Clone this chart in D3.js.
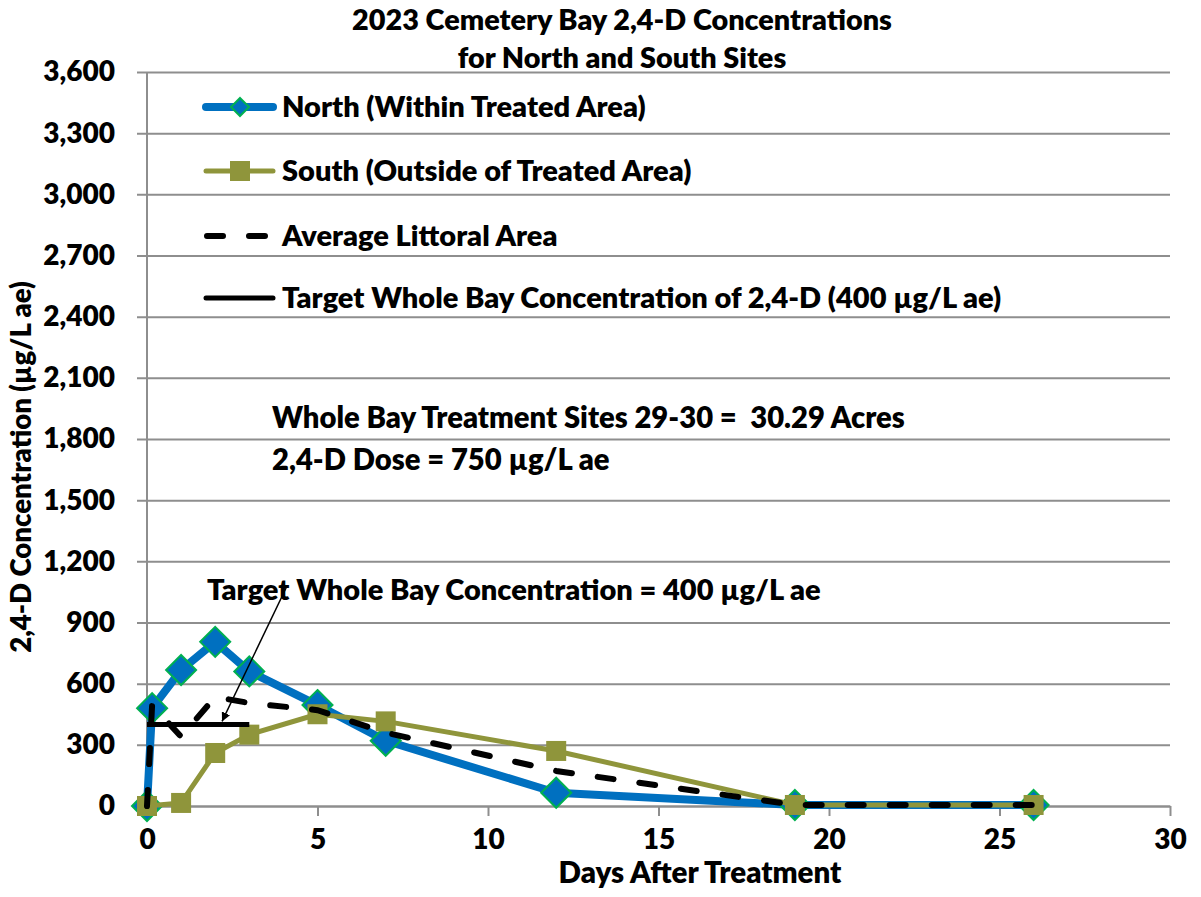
<!DOCTYPE html>
<html>
<head>
<meta charset="utf-8">
<script src="https://cdn.jsdelivr.net/npm/d3@7"></script>
<style>
  html, body { margin: 0; padding: 0; background: #fff; }
  text { font-family: Lato, "Open Sans", sans-serif; font-weight: 800; fill: #000; white-space: pre; }
</style>
</head>
<body>
<svg id="chart" width="1201" height="897"></svg>
<script>
// ---- data ----
const titleLines = ["2023 Cemetery Bay 2,4-D Concentrations", "for North and South Sites"];
const yTicks = [0, 300, 600, 900, 1200, 1500, 1800, 2100, 2400, 2700, 3000, 3300, 3600];
const xTicks = [0, 5, 10, 15, 20, 25, 30];

const northDays = [0, 0.15, 1, 2, 3, 5, 7, 12, 19, 26];
const northVals = [0, 480, 667, 805, 660, 495, 320, 65, 5, 5];

const southDays = [0, 1, 2, 3, 5, 7, 12, 19, 26];
const southVals = [0, 15, 260, 350, 450, 415, 270, 5, 5];

const avgDays = [0, 0.15, 1, 2, 3, 5, 7, 12, 19, 26];
const avgVals = [0, 495, 340, 535, 505, 470, 360, 172, 5, 5];

const targetDays = [0, 3];
const targetVals = [400, 400];

const legendLabels = [
  "North (Within Treated Area)",
  "South (Outside of Treated Area)",
  "Average Littoral Area",
  "Target Whole Bay Concentration of 2,4-D (400 µg/L ae)"
];
const noteLines = ["Whole Bay Treatment Sites 29-30 =  30.29 Acres", "2,4-D Dose = 750 µg/L ae"];
const arrowNote = "Target Whole Bay Concentration = 400 µg/L ae";
const xTitle = "Days After Treatment";
const yTitle = "2,4-D Concentration (µg/L ae)";

// ---- setup ----
const svg = d3.select("#chart");
const L = 147, R = 1170, T = 72, B = 806;
const x = d3.scaleLinear().domain([0, 30]).range([L, R]);
const y = d3.scaleLinear().domain([0, 3600]).range([B, T]);

const northColor = "#0070C0", markerEdge = "#00B050", southColor = "#8F953B";
const gridColor = "#8E8E8E";

// gridlines + y axis
const yAxis = d3.axisLeft(y).tickValues(yTicks).tickFormat(d3.format(",")).tickSize(-(R - L + 10)).tickPadding(22);
const gy = svg.append("g").attr("transform", `translate(${L - 10},0)`).call(yAxis);
gy.select(".domain").remove();
gy.selectAll(".tick line").attr("stroke", gridColor).attr("stroke-width", 2);
gy.selectAll(".tick text").style("font-size", "28px").attr("fill", "#000");

// vertical axis line
svg.append("line").attr("x1", L).attr("x2", L).attr("y1", T).attr("y2", B)
  .attr("stroke", gridColor).attr("stroke-width", 2);

// x axis
const xAxis = d3.axisBottom(x).tickValues(xTicks).tickSize(10).tickPadding(13).tickSizeOuter(0);
const gx = svg.append("g").attr("transform", `translate(0,${B})`).call(xAxis);
gx.select(".domain").attr("stroke", gridColor).attr("stroke-width", 2);
gx.selectAll(".tick line").attr("stroke", gridColor).attr("stroke-width", 2);
gx.selectAll(".tick text").style("font-size", "28px").attr("fill", "#000");

// title
svg.selectAll(".title").data(titleLines).join("text")
  .attr("x", 622).attr("y", (d, i) => 30 + i * 38)
  .attr("text-anchor", "middle").style("font-size", "28.8px").text(d => d);

// axis titles
svg.append("text").attr("x", 700).attr("y", 883).attr("text-anchor", "middle")
  .style("font-size", "29.5px").text(xTitle);
svg.append("text").attr("transform", "translate(31,467) rotate(-90)").attr("text-anchor", "middle")
  .style("font-size", "27.6px").text(yTitle);

// ---- series ----
const line = d3.line().x(d => x(d[0])).y(d => y(d[1]));
const northData = d3.zip(northDays, northVals);
const southData = d3.zip(southDays, southVals);
const avgData = d3.zip(avgDays, avgVals);
const targetData = d3.zip(targetDays, targetVals);

svg.append("path").datum(northData).attr("d", line).attr("fill", "none")
  .attr("stroke", northColor).attr("stroke-width", 8).attr("stroke-linejoin", "round");
const diamond = (s) => `M0,${-s}L${s},0L0,${s}L${-s},0Z`;
svg.selectAll(".nm").data(northData).join("path")
  .attr("transform", d => `translate(${x(d[0])},${y(d[1])})`)
  .attr("d", diamond(15)).attr("fill", northColor).attr("stroke", markerEdge).attr("stroke-width", 2);

svg.append("path").datum(southData).attr("d", line).attr("fill", "none")
  .attr("stroke", southColor).attr("stroke-width", 5).attr("stroke-linejoin", "round");
svg.selectAll(".sm").data(southData).join("rect")
  .attr("x", d => x(d[0]) - 10).attr("y", d => y(d[1]) - 10)
  .attr("width", 20).attr("height", 20).attr("fill", southColor);

svg.append("path").datum(avgData).attr("d", line).attr("fill", "none")
  .attr("stroke", "#000").attr("stroke-width", 6).attr("stroke-dasharray", "16,26")
  .attr("stroke-linecap", "round");

svg.append("path").datum(targetData).attr("d", line).attr("fill", "none")
  .attr("stroke", "#000").attr("stroke-width", 5);

// ---- legend ----
const lg = svg.append("g");
const rowsY = [107, 171, 236, 298];
legendLabels.forEach((lab, i) => {
  const yy = rowsY[i];
  const g = lg.append("g");
  if (i === 0) {
    g.append("line").attr("x1", 206).attr("x2", 273).attr("y1", yy).attr("y2", yy)
      .attr("stroke", northColor).attr("stroke-width", 8).attr("stroke-linecap", "round");
    g.append("path").attr("transform", `translate(240,${yy})`).attr("d", diamond(9))
      .attr("fill", northColor).attr("stroke", markerEdge).attr("stroke-width", 2);
  } else if (i === 1) {
    g.append("line").attr("x1", 206).attr("x2", 273).attr("y1", yy).attr("y2", yy)
      .attr("stroke", southColor).attr("stroke-width", 5).attr("stroke-linecap", "round");
    g.append("rect").attr("x", 230).attr("y", yy - 10).attr("width", 20).attr("height", 20).attr("fill", southColor);
  } else if (i === 2) {
    g.append("line").attr("x1", 207).attr("x2", 275).attr("y1", yy).attr("y2", yy)
      .attr("stroke", "#000").attr("stroke-width", 6).attr("stroke-dasharray", "16,26")
      .attr("stroke-linecap", "round");
  } else {
    g.append("line").attr("x1", 206).attr("x2", 273).attr("y1", yy).attr("y2", yy)
      .attr("stroke", "#000").attr("stroke-width", 5).attr("stroke-linecap", "round");
  }
  g.append("text").attr("x", 282).attr("y", yy).attr("dy", "0.35em")
    .style("font-size", "29px").text(lab);
});

// ---- notes ----
svg.selectAll(".note").data(noteLines).join("text")
  .attr("x", 272).attr("y", (d, i) => 418 + i * 42).attr("dy", "0.35em")
  .style("font-size", "29.2px").text(d => d);

svg.append("text").attr("x", 207).attr("y", 590).attr("dy", "0.35em")
  .style("font-size", "29px").text(arrowNote);

// arrow
const defs = svg.append("defs");
defs.append("marker").attr("id", "arr").attr("viewBox", "0 0 10 10").attr("refX", 10).attr("refY", 5)
  .attr("markerWidth", 9).attr("markerHeight", 9).attr("markerUnits", "userSpaceOnUse")
  .attr("orient", "auto")
  .append("path").attr("d", "M0,0L10,5L0,10Z").attr("fill", "#000");
svg.append("line").attr("x1", 287).attr("y1", 586).attr("x2", x(2.2)).attr("y2", y(400) - 3)
  .attr("stroke", "#000").attr("stroke-width", 1.5).attr("marker-end", "url(#arr)");
</script>
</body>
</html>
